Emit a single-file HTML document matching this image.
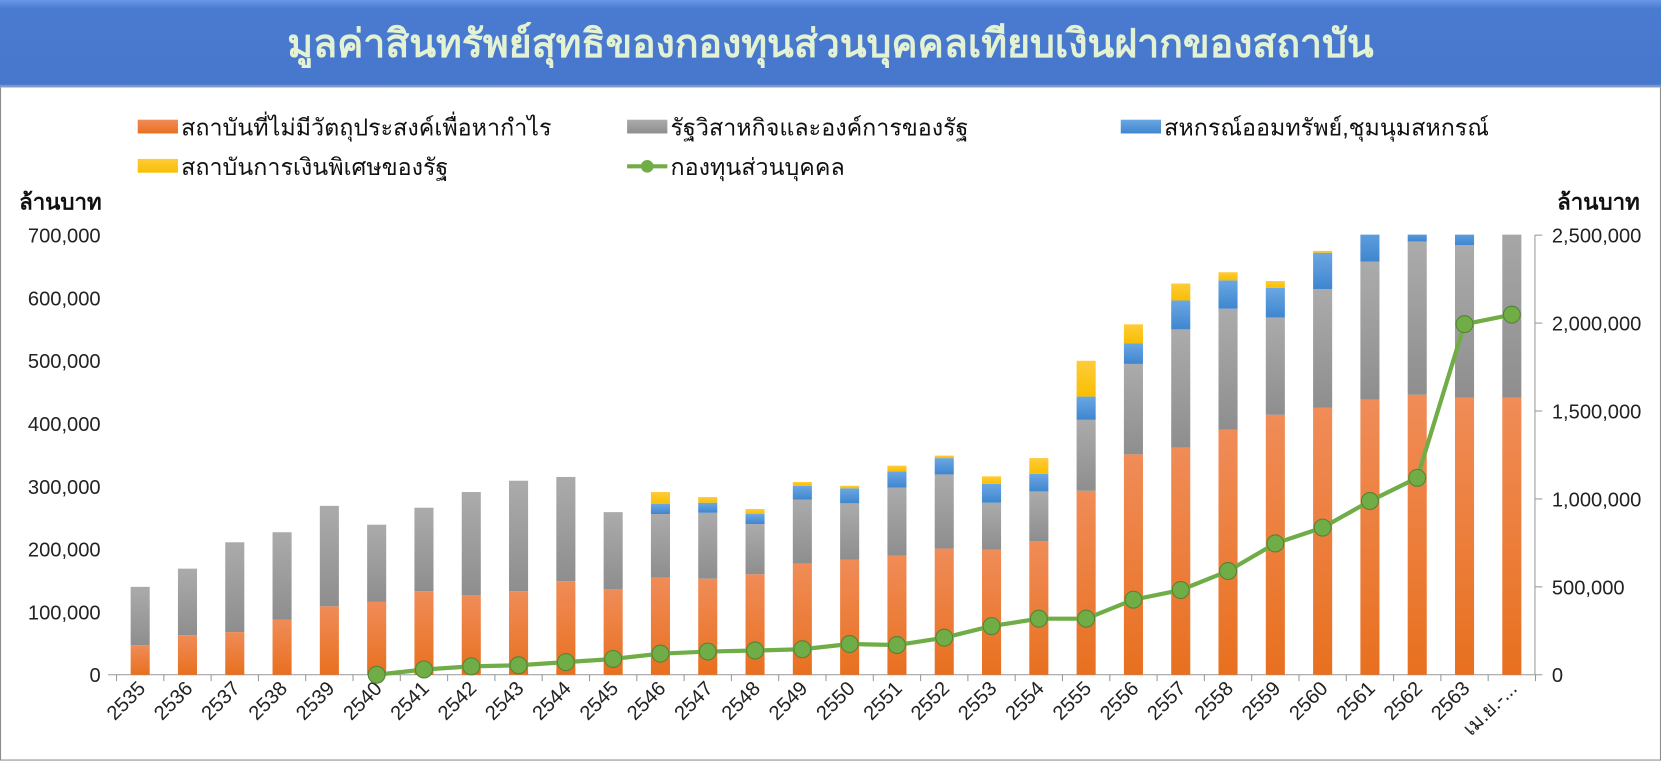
<!DOCTYPE html>
<html><head><meta charset="utf-8"><style>
body{margin:0;background:#fff;}
svg{display:block;font-family:"Liberation Sans","Noto Sans CJK SC",sans-serif;}
</style></head><body>
<svg id="chart" width="1661" height="761" viewBox="0 0 1661 761">
<defs>
<linearGradient id="gTitle" x1="0" y1="0" x2="0" y2="1"><stop offset="0" stop-color="#6a98e6"/><stop offset="0.1" stop-color="#4a7bd0"/><stop offset="1" stop-color="#4677cc"/></linearGradient>
<linearGradient id="gOr" x1="0" y1="0" x2="0" y2="1"><stop offset="0" stop-color="#f08c58"/><stop offset="1" stop-color="#e8701f"/></linearGradient>
<linearGradient id="gGr" x1="0" y1="0" x2="0" y2="1"><stop offset="0" stop-color="#ababab"/><stop offset="1" stop-color="#8e8e8e"/></linearGradient>
<linearGradient id="gBl" x1="0" y1="0" x2="0" y2="1"><stop offset="0" stop-color="#6aa7e3"/><stop offset="1" stop-color="#3f86cf"/></linearGradient>
<linearGradient id="gYe" x1="0" y1="0" x2="0" y2="1"><stop offset="0" stop-color="#ffcb3a"/><stop offset="1" stop-color="#f8bf00"/></linearGradient>
<clipPath id="plotClip"><rect x="100" y="221.5" width="1360" height="420"/></clipPath>
</defs>
<g transform="scale(1.05931)">
<rect x="0.5" y="0.5" width="1567" height="717" fill="#fff" stroke="#8c8c8c"/>
<rect x="0" y="0" width="1568" height="82" fill="url(#gTitle)"/>
<rect x="0" y="80" width="1568" height="3" fill="#9aa8c0" opacity="0.6"/>
<text x="784" y="54" text-anchor="middle" font-size="37" font-weight="bold" fill="#e4f2d4">มูลค่าสินทรัพย์สุทธิของกองทุนส่วนบุคคลเทียบเงินฝากของสถาบัน</text>

<g font-size="22" fill="#111">
<g><rect x="130" y="113" width="38" height="13" fill="url(#gOr)"/><text x="171" y="128">สถาบันที่ไม่มีวัตถุประสงค์เพื่อหากำไร</text></g>
<g><rect x="592" y="113" width="38" height="13" fill="url(#gGr)"/><text x="633" y="128">รัฐวิสาหกิจและองค์การของรัฐ</text></g>
<g><rect x="1058" y="113" width="38" height="13" fill="url(#gBl)"/><text x="1099" y="128">สหกรณ์ออมทรัพย์,ชุมนุมสหกรณ์</text></g>
<g><rect x="130" y="150" width="38" height="13" fill="url(#gYe)"/><text x="171" y="165">สถาบันการเงินพิเศษของรัฐ</text></g>
<g><line x1="592" y1="157" x2="630" y2="157" stroke="#70ad47" stroke-width="4"/><circle cx="611" cy="157" r="6" fill="#70ad47"/><text x="633" y="165">กองทุนส่วนบุคคล</text></g>
</g>
<text x="18" y="198" font-size="21" font-weight="bold" fill="#111">ล้านบาท</text>
<text x="1470" y="198" font-size="21" font-weight="bold" fill="#111">ล้านบาท</text>
<g id="axes"></g>
<g id="bars" clip-path="url(#plotClip)"></g>
<g id="line"></g>
</g>
</svg>
<script>
const categories=["2535","2536","2537","2538","2539","2540","2541","2542","2543","2544","2545","2546","2547","2548","2549","2550","2551","2552","2553","2554","2555","2556","2557","2558","2559","2560","2561","2562","2563","เม.ย.-..."];
const nonprofit=[47,63,68,88,109,116,133,127,133,149,136,155,153,160,177,183,190,201,199,213,293,351,362,390,414,425,438,446,441,441];
const stateEnt=[93,106,143,139,160,123,133,164,176,166,123,101,105,80,102,90,108,118,75,79,113,144,188,193,155,189,220,244,243,309];
const coop=[0,0,0,0,0,0,0,0,0,0,0,16,16,16,22,24,26,26,30,28,37,33,46,45,47,58,62,20,26,0];
const special=[0,0,0,0,0,0,0,0,0,0,0,19,9,8,6,4,9,4,12,25,57,30,27,13,11,3,0,0,0,0];
const privateFund=[null,null,null,null,null,0,30,48,54,72,90,120,132,138,145,175,169,211,277,319,319,427,482,590,747,837,988,1120,1994,2048];
const leftTicks=["0","100,000","200,000","300,000","400,000","500,000","600,000","700,000"];
const rightTicks=["0","500,000","1,000,000","1,500,000","2,000,000","2,500,000"];
const NS="http://www.w3.org/2000/svg";
const x0=110,step=44.65,yBase=637,pxTop=222,rAxis=1449;
const xC=i=>x0+step*(i+0.5);
const yL=v=>yBase-(v/700)*(yBase-pxTop);
const yR=v=>yBase-(v/2500)*(yBase-pxTop);
function mk(tag,attrs,parent){const e=document.createElementNS(NS,tag);for(const k in attrs)e.setAttribute(k,attrs[k]);parent.appendChild(e);return e;}
const axes=document.getElementById('axes'),bars=document.getElementById('bars'),line=document.getElementById('line');
leftTicks.forEach((t,i)=>{const e=mk('text',{x:95,y:yL(i*100)+7,'text-anchor':'end','font-size':19,fill:'#222'},axes);e.textContent=t;

});
rightTicks.forEach((t,i)=>{const y=yR(i*500);const e=mk('text',{x:rAxis+16,y:y+7,'font-size':19,fill:'#222'},axes);e.textContent=t;


mk('line',{x1:rAxis,y1:y,x2:rAxis+7,y2:y,stroke:'#999'},axes);});
const ra=mk('line',{x1:rAxis,y1:pxTop,x2:rAxis,y2:yBase,stroke:'#999'},axes);


const xa=mk('line',{x1:x0-8,y1:yBase,x2:rAxis,y2:yBase,stroke:'#999'},axes);


for(let i=0;i<=categories.length;i++)mk('line',{x1:x0+step*i,y1:yBase,x2:x0+step*i,y2:yBase+6,stroke:'#999'},axes);
categories.forEach((c,i)=>{const x=xC(i)+6,y=yBase+14;const e=mk('text',{x:x,y:y,'text-anchor':'end','font-size':19,fill:'#222',transform:`rotate(-45 ${x} ${y})`},axes);e.textContent=c;

});
const series=[[nonprofit,'url(#gOr)','bar-nonprofit'],[stateEnt,'url(#gGr)','bar-state-enterprise'],[coop,'url(#gBl)','bar-cooperative'],[special,'url(#gYe)','bar-special-bank']];
categories.forEach((c,i)=>{let acc=0;series.forEach(([arr,fill,name])=>{const v=arr[i];if(!v){return;}const yt=yL(acc+v),yb=yL(acc);acc+=v;
const r=mk('rect',{x:xC(i)-9,y:yt,width:18,height:yb-yt,fill:fill},bars);

});});
let pts=[];privateFund.forEach((v,i)=>{if(v!==null)pts.push([xC(i),yR(v)]);});
const pl=mk('polyline',{points:pts.map(p=>p.join(',')).join(' '),fill:'none',stroke:'#70ad47','stroke-width':4,'stroke-linejoin':'round'},line);


pts.forEach(p=>{const c=mk('circle',{cx:p[0],cy:p[1],r:8,fill:'#70ad47',stroke:'#548235','stroke-width':1},line);

});
</script>
</body></html>
